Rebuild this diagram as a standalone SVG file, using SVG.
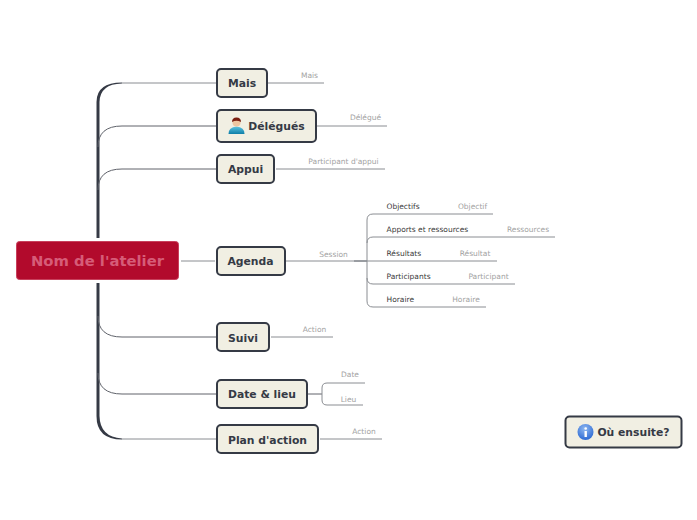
<svg xmlns="http://www.w3.org/2000/svg" width="697" height="520" viewBox="0 0 697 520">
<defs>
<style>
text{font-family:"DejaVu Sans",sans-serif}
.t{font-size:10.800px;font-weight:bold;fill:#353a45;text-anchor:middle}
.box{fill:#f1efe3;stroke:#353a45;stroke-width:2}
.l{font-size:7.500px;fill:#a2a2a2;text-anchor:middle}
.s{font-size:7.500px;fill:#3a3a3a}
.c{fill:none;stroke:#8a8d92;stroke-width:1}
.d{fill:none;stroke:#60636b;stroke-width:1}
.tr{fill:none;stroke:#353a45;stroke-width:3}
</style>
<linearGradient id="skin" x1="0" y1="0" x2="0" y2="1"><stop offset="0" stop-color="#5ec3e0"/><stop offset="1" stop-color="#0e7ea8"/></linearGradient>
<radialGradient id="inf" cx="0.45" cy="0.3" r="0.8"><stop offset="0" stop-color="#8fb8f0"/><stop offset="1" stop-color="#1f5fd0"/></radialGradient>
</defs>
<g id="connectors">
<path class="tr" d="M98 238V102"/>
<path fill="#353a45" d="M96.500 102Q96.500 82.500 122 82.500V83.500Q100 84 99.500 102Z"/>
<path class="tr" d="M98 283V416"/>
<path fill="#353a45" d="M96.500 416Q96.500 439.500 122 439.500V438.500Q100 437 99.500 416Z"/>
<path class="d" d="M98 147Q98 126 122 126H217M98 190Q98 169 122 169H217M98 316Q98 337 122 337H217M98 373Q98 394 122 394H217"/>
<path class="c" d="M122 83H217M122 439H217M181 261H215"/>
<path class="c" d="M268 83H324M317 126H387M276 169H385M271 337H333M320 439H382"/>
<path class="c" d="M286 261H354"/>
<path d="M354 261H367" fill="none" stroke="#353a45" stroke-width="1"/>
<path class="d" d="M308 394H322"/>
<path class="c" d="M365 383H327Q322 383 322 388V400Q322 405 327 405H363"/>
<path class="c" d="M493 214H373Q367 214 367 220V301Q367 307 373 307H486"/>
<path class="c" d="M367 243Q367 237 373 237H555M367 261H497M367 278Q367 284 373 284H515"/>
</g>
<g id="root">
<rect x="16.500" y="241.500" width="162" height="38" rx="3" fill="#b20a2c" stroke="#c8405c" stroke-width="1"/>
<text x="97.500" y="266" text-anchor="middle" font-size="14.800" font-weight="bold" fill="#d65c78">Nom de l'atelier</text>
</g>
<g id="mais"><rect class="box" x="217" y="69" width="50" height="28" rx="4"/><text class="t" x="242" y="87">Mais</text><text class="l" x="309.500" y="78">Mais</text></g>
<g id="delegues"><rect class="box" x="217" y="110" width="99" height="32" rx="4"/>
<path d="M228.500 134Q228.500 127 236.500 126.500Q244.500 127 244.500 134Z" fill="url(#skin)"/>
<circle cx="236.500" cy="122.500" r="4" fill="#eec5a0"/><path d="M232 122Q232 117.500 236.500 117.500Q241 117.500 241 122Q236.500 119.500 232 122Z" fill="#7a1f12"/>
<text class="t" x="276.500" y="130">Délégués</text><text class="l" x="365.500" y="120">Délégué</text></g>
<g id="appui"><rect class="box" x="217" y="155" width="57" height="28" rx="4"/><text class="t" x="245.500" y="173">Appui</text><text class="l" x="343.500" y="164">Participant d'appui</text></g>
<g id="agenda"><rect class="box" x="217" y="247" width="68" height="28" rx="4"/><text class="t" x="250.500" y="265">Agenda</text><text class="l" x="333.500" y="257">Session</text></g>
<g id="objectifs"><text class="s" x="386.500" y="209">Objectifs</text><text class="l" x="472.500" y="209">Objectif</text></g>
<g id="apports"><text class="s" x="386.500" y="232">Apports et ressources</text><text class="l" x="528" y="232">Ressources</text></g>
<g id="resultats"><text class="s" x="386.500" y="256">Résultats</text><text class="l" x="475" y="256">Résultat</text></g>
<g id="participants"><text class="s" x="386.500" y="279">Participants</text><text class="l" x="488.500" y="279">Participant</text></g>
<g id="horaire"><text class="s" x="386.500" y="302">Horaire</text><text class="l" x="466" y="302">Horaire</text></g>
<g id="suivi"><rect class="box" x="217" y="323" width="52" height="28" rx="4"/><text class="t" x="243" y="342">Suivi</text><text class="l" x="314.500" y="332">Action</text></g>
<g id="date-lieu"><rect class="box" x="217" y="380" width="90" height="28" rx="4"/><text class="t" x="262" y="398">Date &amp; lieu</text><text class="l" x="350" y="377">Date</text><text class="l" x="348.500" y="401.500">Lieu</text></g>
<g id="plan-action"><rect class="box" x="217" y="425" width="101" height="28" rx="4"/><text class="t" x="267.500" y="444">Plan d'action</text><text class="l" x="364" y="434">Action</text></g>
<g id="ou-ensuite"><rect class="box" x="565.500" y="416.500" width="116" height="31" rx="4"/>
<circle cx="585.500" cy="432" r="8" fill="url(#inf)"/><rect x="584.500" y="431" width="2.400" height="6" fill="#fff"/><circle cx="585.700" cy="428.500" r="1.300" fill="#fff"/>
<text class="t" x="633.500" y="436">Où ensuite?</text></g>
</svg>
